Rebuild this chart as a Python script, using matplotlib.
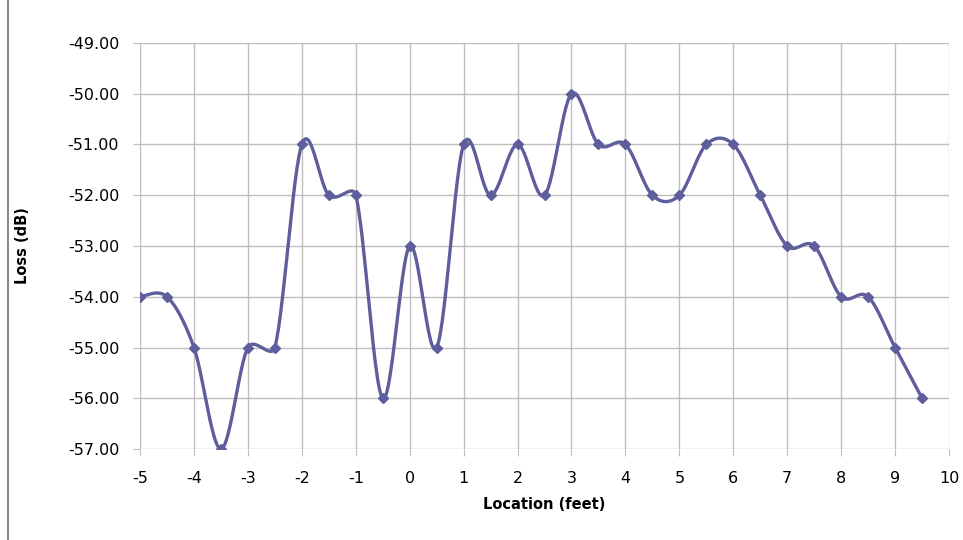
import numpy as np
import matplotlib
matplotlib.use('Agg')
import matplotlib.pyplot as plt
from matplotlib.lines import Line2D

plt.rcParams['axes.unicode_minus'] = False

location = [-5, -4.5, -4, -3.5, -3, -2.5, -2, -1.5, -1, -0.5, 0, 0.5, 1, 1.5, 2,
            2.5, 3, 3.5, 4, 4.5, 5, 5.5, 6, 6.5, 7, 7.5, 8, 8.5, 9, 9.5]
loss = [-54, -54, -55, -57, -55, -55, -51, -52, -52, -56, -53, -55, -51, -52, -51,
        -52, -50, -51, -51, -52, -52, -51, -51, -52, -53, -53, -54, -54, -55, -56]

line_color = '#5E5E9C'
grid_color = '#BEBEBE'


def smooth(x, y, sx=53.9, sy=50.75, n=30):
    # Excel-style smoothed line, computed in screen units (sx, sy = px per unit)
    p = np.column_stack([np.asarray(x, float) * sx, np.asarray(y, float) * sy])
    p = np.vstack([p[0], p, p[-1]])
    t = np.linspace(0, 1, n)[:, None]
    out = []
    for i in range(1, len(p) - 2):
        p0, p1, p2, p3 = p[i - 1], p[i], p[i + 1], p[i + 2]
        d12 = np.hypot(*(p2 - p1))
        d02 = np.hypot(*(p2 - p0))
        d13 = np.hypot(*(p3 - p1))
        f0 = f1 = 1 / 6
        if d02 * f0 > d12 / 2:
            f0 = d12 / 2 / d02
        if d13 * f1 > d12 / 2:
            f1 = d12 / 2 / d13
        c1 = p1 + (p2 - p0) * f0
        c2 = p2 - (p3 - p1) * f1
        b = (1 - t) ** 3 * p1 + 3 * (1 - t) ** 2 * t * c1 + 3 * (1 - t) * t ** 2 * c2 + t ** 3 * p2
        out.append(b)
    out = np.vstack(out)
    return out[:, 0] / sx, out[:, 1] / sy


fig = plt.figure(figsize=(9.63, 5.4), dpi=100)
ax = fig.add_axes([0.1454, 0.1685, 0.8401, 0.7519])

cx, cy = smooth(location, loss)
ax.plot(cx, cy, color=line_color, lw=2.4, zorder=3)
ax.plot(location, loss, linestyle='none', marker='D', ms=5, color=line_color, zorder=4)

ax.set_xlim(-5, 10)
ax.set_ylim(-57, -49)
ax.set_xticks(range(-5, 11))
ax.set_yticks(range(-57, -48))
ax.set_yticklabels([f'{v:.2f}' for v in range(-57, -48)])
ax.grid(True, color=grid_color, lw=1)
ax.set_axisbelow(True)
for s in ax.spines.values():
    s.set_visible(False)
ax.tick_params(axis='both', length=5, color=grid_color, labelsize=11.5)
ax.tick_params(axis='y', pad=10)
ax.tick_params(axis='x', pad=11)

ax.set_xlabel('Location (feet)', fontweight='bold', fontsize=10.5, labelpad=8)
ax.set_ylabel('Loss (dB)', fontweight='bold', fontsize=10.5)
ax.yaxis.set_label_coords(-0.136, 0.5)

fig.add_artist(Line2D([8 / 963, 8 / 963], [0.0, 1.0], color='#8C8C8C', lw=1.5))

fig.savefig('out.png', dpi=100)
